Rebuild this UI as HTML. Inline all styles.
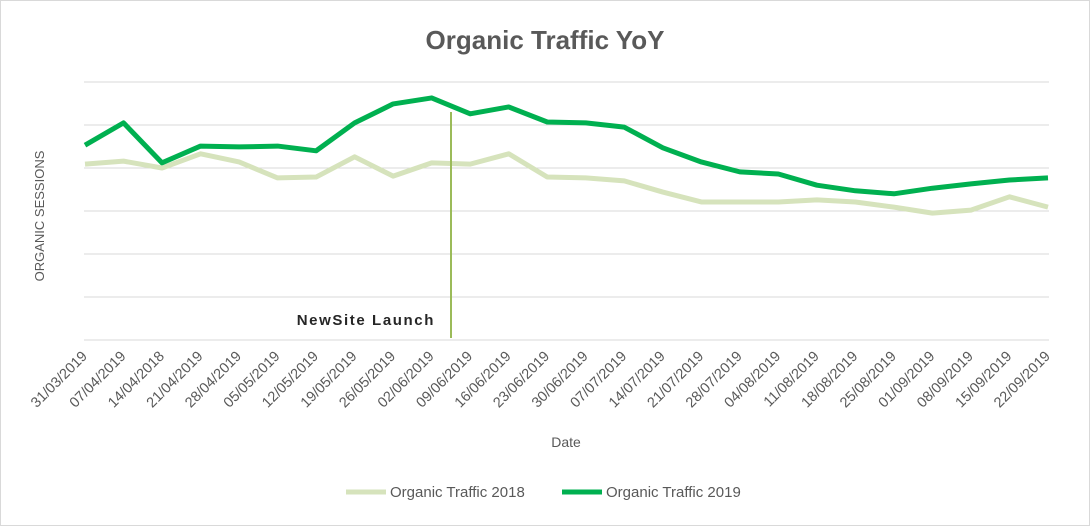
<!DOCTYPE html>
<html><head><meta charset="utf-8"><style>
body{margin:0;background:#fff;}
svg{display:block;font-family:"Liberation Sans",sans-serif;}
</style></head><body>
<svg id="chart" width="1090" height="526">
<rect x="0.5" y="0.5" width="1089" height="525" fill="#fff" stroke="#d9d9d9"/>
<text x="545" y="49" text-anchor="middle" font-size="26" font-weight="bold" fill="#595959">Organic Traffic YoY</text>
<text transform="translate(44,216) rotate(-90)" text-anchor="middle" font-size="13" fill="#595959">ORGANIC SESSIONS</text>
<text x="566" y="447" text-anchor="middle" font-size="14" fill="#595959">Date</text>
<g id="grid"></g><g id="xlabels"></g><g id="series"></g>
<line x1="451" y1="112" x2="451" y2="338" stroke="#9bbb59" stroke-width="2"/>
<text x="435" y="325" text-anchor="end" font-size="15" font-weight="bold" letter-spacing="1.6" fill="#262626">NewSite Launch</text>
<g>
<line x1="346" y1="492" x2="386" y2="492" stroke="#d6e3bc" stroke-width="5"/>
<text x="390" y="497" font-size="15" fill="#595959">Organic Traffic 2018</text>
<line x1="562" y1="492" x2="602" y2="492" stroke="#00b050" stroke-width="5"/>
<text x="606" y="497" font-size="15" fill="#595959">Organic Traffic 2019</text>
</g>
</svg>
<script>
const categories=["31/03/2019","07/04/2019","14/04/2018","21/04/2019","28/04/2019","05/05/2019","12/05/2019","19/05/2019","26/05/2019","02/06/2019","09/06/2019","16/06/2019","23/06/2019","30/06/2019","07/07/2019","14/07/2019","21/07/2019","28/07/2019","04/08/2019","11/08/2019","18/08/2019","25/08/2019","01/09/2019","08/09/2019","15/09/2019","22/09/2019"];
const values2018=[409,416,400,433,414,377,379,426,381,412,409,433,379,377,370,344,321,321,321,326,321,309,295,302,333,309];
const values2019=[453,505,412,451,449,451,440,505,549,563,526,542,507,505,495,447,414,391,386,360,347,340,353,363,372,377];
const yTicks=[0,100,200,300,400,500,600];
const NS="http://www.w3.org/2000/svg";
const x0=85,x1=1048,yBase=340,yTop=82,yMax=600;
function xs(i){return x0+i*(x1-x0)/(categories.length-1);}
function ys(v){return yBase-(v/yMax)*(yBase-yTop);}
const grid=document.getElementById('grid');
yTicks.forEach(t=>{const l=document.createElementNS(NS,'line');
l.setAttribute('x1',84);l.setAttribute('x2',1049);l.setAttribute('y1',ys(t));l.setAttribute('y2',ys(t));
l.setAttribute('stroke','#d9d9d9');l.setAttribute('stroke-width','1');


grid.appendChild(l);});
const xl=document.getElementById('xlabels');
categories.forEach((c,i)=>{const t=document.createElementNS(NS,'text');
const x=xs(i)+3,y=357;
t.setAttribute('transform',`translate(${x},${y}) rotate(-45)`);
t.setAttribute('text-anchor','end');t.setAttribute('font-size','14.5');t.setAttribute('fill','#595959');
t.textContent=c;


xl.appendChild(t);});
const sg=document.getElementById('series');
function draw(vals,color,name){const p=document.createElementNS(NS,'polyline');
p.setAttribute('points',vals.map((v,i)=>xs(i)+','+ys(v)).join(' '));
p.setAttribute('fill','none');p.setAttribute('stroke',color);p.setAttribute('stroke-width','5');p.setAttribute('stroke-linejoin','round');


sg.appendChild(p);}
draw(values2018,'#d6e3bc','line-2018');
draw(values2019,'#00b050','line-2019');
</script>
</body></html>
